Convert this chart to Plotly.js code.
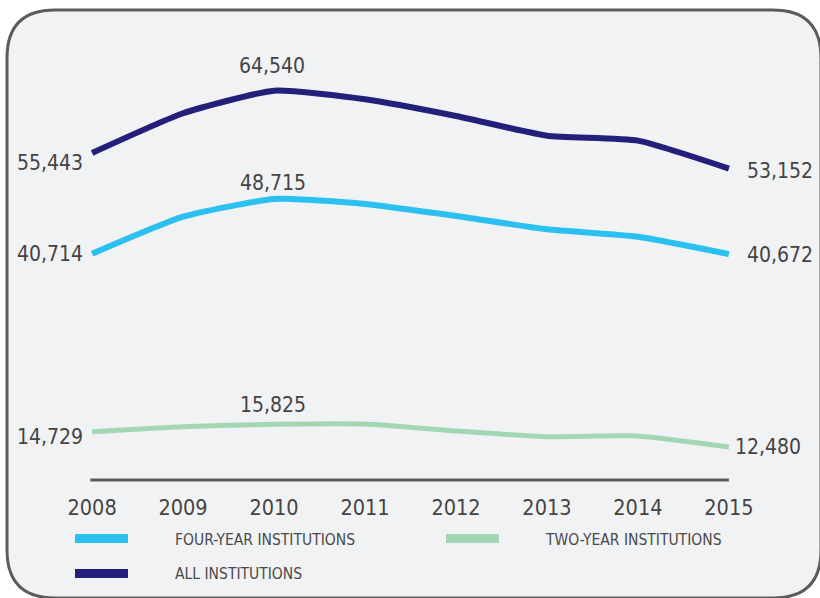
<!DOCTYPE html>
<html>
<head>
<meta charset="utf-8">
<script src="https://cdn.plot.ly/plotly-3.0.1.min.js"></script>
<style>
  html, body { margin: 0; padding: 0; background: #ffffff; }
  #chart { width: 820px; height: 598px; }
</style>
</head>
<body>
<div id="chart"></div>
<script>
// ---- data ----
const years = [2008, 2009, 2010, 2011, 2012, 2013, 2014, 2015];
const yearLabels = ["2008", "2009", "2010", "2011", "2012", "2013", "2014", "2015"];
const fourYear = [40714, 46130, 48715, 47990, 46240, 44290, 43210, 40672];
const twoYear  = [14729, 15460, 15825, 15850, 14830, 14000, 14100, 12480];
const allInst  = [55443, 61240, 64540, 63280, 60840, 57970, 57240, 53152];
const seriesNames = ["FOUR-YEAR INSTITUTIONS", "TWO-YEAR INSTITUTIONS", "ALL INSTITUTIONS"];

// ---- layout geometry ----
const W = 820, H = 598;
const M = { l: 83, r: 82, t: 60, b: 118 };
const pw = W - M.l - M.r, ph = H - M.t - M.b;
const px = x => (x - M.l) / pw;
const py = y => (H - M.b - y) / ph;

const FONT = '"DejaVu Sans Condensed", "Liberation Sans Narrow", "Liberation Sans", sans-serif';
const TXT = '#444444';
const C_FOUR = '#2bc0ef', C_TWO = '#a3d6b4', C_ALL = '#231f7a';

const fmt = v => v.toLocaleString('en-US');

function line(y, name, color, width) {
  return {
    x: years, y: y, name: name, type: 'scatter', mode: 'lines',
    line: { color: color, width: width, shape: 'spline', smoothing: 0.5 },
    hoverinfo: 'x+y+name', showlegend: false
  };
}

const traces = [
  line(twoYear, seriesNames[1], C_TWO, 5),
  line(fourYear, seriesNames[0], C_FOUR, 6),
  line(allInst, seriesNames[2], C_ALL, 6)
];

// rounded frame
function rr(x0, y0, x1, y1, r) {
  const P = (x, y) => px(x) + ',' + py(y);
  return 'M' + P(x0 + r, y0) + ' L' + P(x1 - r, y0) +
    ' Q' + P(x1, y0) + ' ' + P(x1, y0 + r) +
    ' L' + P(x1, y1 - r) +
    ' Q' + P(x1, y1) + ' ' + P(x1 - r, y1) +
    ' L' + P(x0 + r, y1) +
    ' Q' + P(x0, y1) + ' ' + P(x0, y1 - r) +
    ' L' + P(x0, y0 + r) +
    ' Q' + P(x0, y0) + ' ' + P(x0 + r, y0) + ' Z';
}

const shapes = [
  { type: 'path', xref: 'paper', yref: 'paper', path: rr(7, 10, 821, 598, 48),
    fillcolor: '#f1f2f4', line: { color: '#5c5c5c', width: 3 }, layer: 'below' },
  // baseline
  { type: 'line', xref: 'x', yref: 'paper', x0: years[0] - 0.02, x1: years[years.length - 1], y0: 0.0, y1: 0.0,
    line: { color: '#5a5a5a', width: 3 }, layer: 'below' },
  // legend swatches
  { type: 'rect', xref: 'paper', yref: 'paper', x0: px(75), x1: px(128), y0: py(534), y1: py(543),
    fillcolor: C_FOUR, line: { width: 0 } },
  { type: 'rect', xref: 'paper', yref: 'paper', x0: px(75), x1: px(128), y0: py(569), y1: py(578),
    fillcolor: C_ALL, line: { width: 0 } },
  { type: 'rect', xref: 'paper', yref: 'paper', x0: px(446), x1: px(499), y0: py(534), y1: py(543),
    fillcolor: C_TWO, line: { width: 0 } }
];

const last = years.length - 1;
const peak = 2; // 2010
function lab(i, arr, xanchor, xs, ys) {
  return { x: years[i], y: arr[i], xref: 'x', yref: 'y', text: fmt(arr[i]), showarrow: false,
    xanchor: xanchor, yanchor: 'middle', xshift: xs, yshift: ys,
    font: { family: FONT, size: 21, color: TXT } };
}
const annotations = [
  lab(0, allInst, 'right', -7, -10),
  lab(0, fourYear, 'right', -7, 0),
  lab(0, twoYear, 'right', -7, -5),
  lab(peak, allInst, 'center', -2, 25),
  lab(peak, fourYear, 'center', -1, 16),
  lab(peak, twoYear, 'center', -1, 19),
  lab(last, allInst, 'left', 16, -2),
  lab(last, fourYear, 'left', 16, -1),
  lab(last, twoYear, 'left', 4, 0),
  { xref: 'paper', yref: 'paper', x: px(173), y: py(540), xanchor: 'left', yanchor: 'middle', showarrow: false,
    text: seriesNames[0], font: { family: FONT, size: 15.5, color: '#4a4a4a' } },
  { xref: 'paper', yref: 'paper', x: px(173), y: py(574), xanchor: 'left', yanchor: 'middle', showarrow: false,
    text: seriesNames[2], font: { family: FONT, size: 15.5, color: '#4a4a4a' } },
  { xref: 'paper', yref: 'paper', x: px(543), y: py(540), xanchor: 'left', yanchor: 'middle', showarrow: false,
    text: seriesNames[1], font: { family: FONT, size: 15.5, color: '#4a4a4a' } }
];

const layout = {
  width: W, height: H,
  margin: M,
  paper_bgcolor: 'rgba(0,0,0,0)',
  plot_bgcolor: 'rgba(0,0,0,0)',
  showlegend: false,
  xaxis: {
    range: [2007.9, 2015.1], tickvals: years, ticktext: yearLabels,
    showgrid: false, zeroline: false, showline: false, ticks: '',
    tickfont: { family: FONT, size: 21.5, color: TXT }, ticklabelstandoff: 12, fixedrange: true
  },
  yaxis: { range: [7674, 69023], visible: false, fixedrange: true },
  shapes: shapes,
  annotations: annotations
};

Plotly.newPlot('chart', traces, layout, { displayModeBar: false, staticPlot: true });
</script>
</body>
</html>
